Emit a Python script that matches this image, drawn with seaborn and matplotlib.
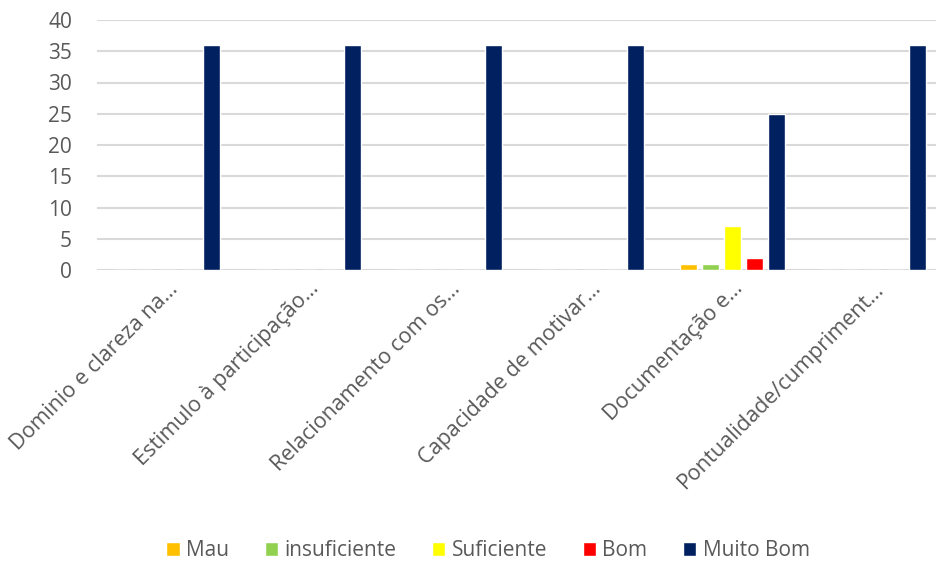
import matplotlib
matplotlib.use("Agg")
import matplotlib.pyplot as plt
import pandas as pd
import seaborn as sns

categories = [
    "Dominio e clareza na…",
    "Estimulo à participação…",
    "Relacionamento com os…",
    "Capacidade de motivar…",
    "Documentação e…",
    "Pontualidade/cumpriment…",
]
series = ["Mau", "insuficiente", "Suficiente", "Bom", "Muito Bom"]
mau = [0, 0, 0, 0, 1, 0]
insuficiente = [0, 0, 0, 0, 1, 0]
suficiente = [0, 0, 0, 0, 7, 0]
bom = [0, 0, 0, 0, 2, 0]
muito_bom = [36, 36, 36, 36, 25, 36]
colors = ["#FFC000", "#92D050", "#FFFF00", "#FF0000", "#002060"]

sns.set_style("white")
plt.rcParams["font.family"] = ["Open Sans", "DejaVu Sans"]

rows = []
for name, vals in zip(series, [mau, insuficiente, suficiente, bom, muito_bom]):
    for cat, v in zip(categories, vals):
        rows.append({"categoria": cat, "serie": name, "valor": v})
df = pd.DataFrame(rows)

fig = plt.figure(figsize=(9.37, 5.67), dpi=100)
ax = fig.add_axes([97 / 937, 1 - 270 / 567, 847 / 937, 250 / 567])

sns.barplot(data=df, x="categoria", y="valor", hue="serie", order=categories,
            hue_order=series, palette=colors, width=0.78, gap=0.23,
            saturation=1, ax=ax, zorder=3)

ax.set_ylim(0, 40)
ax.set_yticks(range(0, 41, 5))
ax.yaxis.grid(True, color="#D9D9D9", linewidth=1.5, zorder=0)
ax.set_axisbelow(True)
for s in ax.spines.values():
    s.set_visible(False)
ax.set_xlabel("")
ax.set_ylabel("")
ax.tick_params(axis="y", length=0, colors="#595959", labelsize=15, pad=18)
ax.tick_params(axis="x", length=0, colors="#595959", labelsize=15.5, pad=6)
for lbl in ax.get_xticklabels():
    lbl.set_rotation(45)
    lbl.set_ha("right")
    lbl.set_rotation_mode("anchor")

ax.legend(loc="center", bbox_to_anchor=(488 / 937, 1 - 551 / 567),
          bbox_transform=fig.transFigure, ncol=5, frameon=False,
          fontsize=15, labelcolor="#595959", handlelength=0.65,
          handleheight=0.65, handletextpad=0.3, columnspacing=1.7)

fig.savefig("out.png", dpi=100)
